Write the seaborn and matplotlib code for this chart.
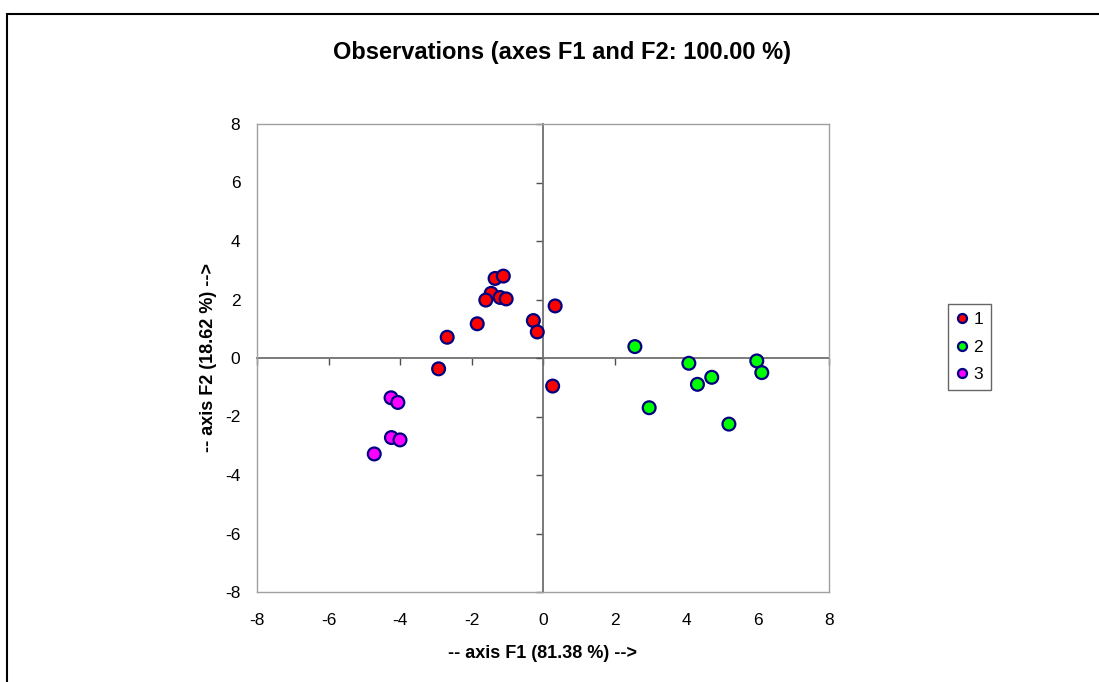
import matplotlib
matplotlib.use("Agg")
import matplotlib.pyplot as plt
import seaborn as sns
import pandas as pd
from matplotlib.patches import Rectangle

# Observation scores on the first two factor axes, grouped by class
class1_f1 = [-1.34, -1.11, -1.45, -1.60, -1.20, -1.03, -1.84, -2.68, -0.27, -0.16, 0.34, -2.92, 0.27]
class1_f2 = [2.72, 2.80, 2.21, 1.98, 2.07, 2.02, 1.17, 0.71, 1.28, 0.89, 1.78, -0.37, -0.96]
class2_f1 = [2.57, 4.08, 4.72, 4.32, 2.97, 5.20, 5.98, 6.12]
class2_f2 = [0.39, -0.18, -0.66, -0.90, -1.70, -2.26, -0.10, -0.50]
class3_f1 = [-4.25, -4.06, -4.24, -4.00, -4.72]
class3_f2 = [-1.36, -1.52, -2.72, -2.80, -3.28]

classes = ["1", "2", "3"]
class_colors = ["#ff0000", "#00ff00", "#ff00ff"]
ticks = [-8, -6, -4, -2, 0, 2, 4, 6, 8]

title = "Observations (axes F1 and F2: 100.00 %)"
xlabel = "-- axis F1 (81.38 %) -->"
ylabel = "-- axis F2 (18.62 %) -->"

df = pd.DataFrame({
    "F1": class1_f1 + class2_f1 + class3_f1,
    "F2": class1_f2 + class2_f2 + class3_f2,
    "Class": ["1"] * len(class1_f1) + ["2"] * len(class2_f1) + ["3"] * len(class3_f1),
})

sns.set_theme(style="white")
plt.rcParams["font.family"] = ["Liberation Sans", "DejaVu Sans"]
plt.rcParams["text.color"] = "black"
plt.rcParams["axes.labelcolor"] = "black"

W, H = 1099, 682
fig = plt.figure(figsize=(W / 100, H / 100), dpi=100)
fig.patch.set_facecolor("white")

# outer chart frame (extends past the right and bottom edges)
fig.patches.append(Rectangle((7 / W, -0.1), 1.2, 1 - 14 / H + 0.1,
                             transform=fig.transFigure, fill=False,
                             edgecolor="black", linewidth=1.5))

left, right, top, bottom = 257, 829, 124, 592
ax = fig.add_axes([left / W, 1 - bottom / H, (right - left) / W, (bottom - top) / H])

sns.scatterplot(data=df, x="F1", y="F2", hue="Class", hue_order=classes,
                palette=class_colors, s=85, edgecolor="#000080", linewidth=1.6,
                ax=ax, zorder=3, legend=True)

ax.set_xlim(-8, 8)
ax.set_ylim(-8, 8)
ax.set_xticks(ticks)
ax.set_yticks(ticks)
ax.set_xticklabels([str(t) for t in ticks])
ax.set_yticklabels([str(t) for t in ticks])
ax.tick_params(axis="both", length=0, labelsize=12.5, colors="black")
ax.tick_params(axis="x", pad=15)
ax.tick_params(axis="y", pad=12)
for sp in ax.spines.values():
    sp.set_color("#a0a0a0")
    sp.set_linewidth(1.0)
    sp.set_visible(True)

# zero axes crossing at the origin, with their own tick marks
sec_x = ax.secondary_xaxis(0.5)
sec_x.set_xticks(ticks)
sec_x.set_xticklabels([])
sec_x.tick_params(axis="x", direction="in", length=5, width=1, color="#505050")
for side in ("top", "bottom"):
    sec_x.spines[side].set_color("#707070")
    sec_x.spines[side].set_linewidth(1.3)
sec_y = ax.secondary_yaxis(0.5)
sec_y.set_yticks(ticks)
sec_y.set_yticklabels([])
sec_y.tick_params(axis="y", direction="in", length=5, width=1, color="#505050")
for side in ("left", "right"):
    sec_y.spines[side].set_color("#707070")
    sec_y.spines[side].set_linewidth(1.3)

ax.set_xlabel(xlabel, fontsize=13, fontweight="bold", labelpad=12)
ax.set_ylabel(ylabel, fontsize=13, fontweight="bold", labelpad=6)

fig.text(562 / W, 1 - 53 / H, title, ha="center", va="center",
         fontsize=17, fontweight="bold")

handles, labels = ax.get_legend_handles_labels()
for h in handles:
    h.set_markersize(6.5)
ax.legend(handles, labels, loc="center left",
          bbox_to_anchor=(948 / W, 1 - 347 / H), bbox_transform=fig.transFigure,
          frameon=True, fancybox=False, edgecolor="#404040", fontsize=12.5,
          handletextpad=0.3, handlelength=0.7, borderpad=0.45, labelspacing=0.7,
          borderaxespad=0)
ax.get_legend().get_frame().set_linewidth(1.0)

fig.savefig("out.png", dpi=100, facecolor="white")
